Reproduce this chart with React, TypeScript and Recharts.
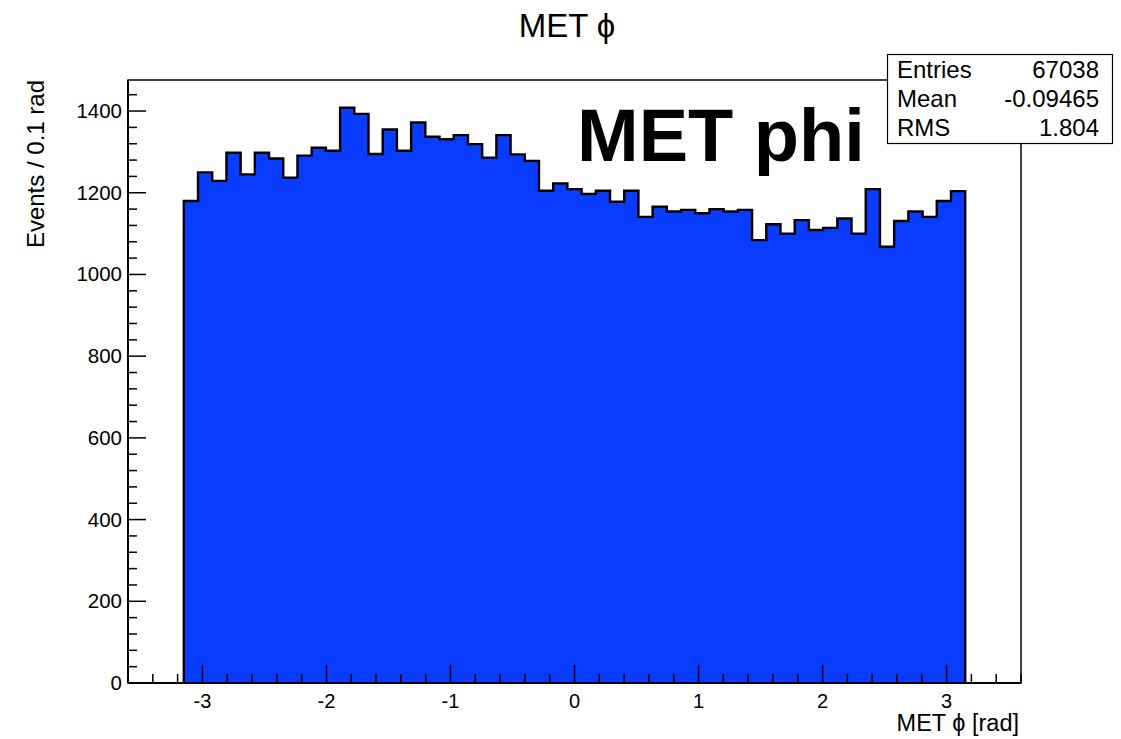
import { ComposedChart, Area, XAxis, YAxis, ReferenceArea } from 'recharts'

const W = 1121
const H = 739
const FONT = '"Liberation Sans", Arial, Helvetica, sans-serif'
const BLUE = '#0a3cff'

// histogram: 55 equal bins between -3.15 and 3.15
const histLow = -3.15
const histHigh = 3.15
const binCounts = [
  1180, 1250, 1229, 1298, 1245, 1298, 1284, 1237, 1291, 1310,
  1303, 1408, 1393, 1295, 1355, 1303, 1372, 1337, 1331, 1341,
  1319, 1286, 1341, 1294, 1278, 1205, 1223, 1209, 1197, 1205,
  1178, 1205, 1141, 1166, 1154, 1158, 1150, 1160, 1154, 1158,
  1084, 1123, 1100, 1133, 1109, 1114, 1137, 1100, 1209, 1068,
  1131, 1154, 1141, 1180, 1204,
]

const xDomain = [-3.6, 3.6]
const yDomain = [0, 1476]
const xMajorTicks = [-3, -2, -1, 0, 1, 2, 3]
const yMajorTicks = [0, 200, 400, 600, 800, 1000, 1200, 1400]

const statLabels = ['Entries', 'Mean', 'RMS']
const statValues = ['67038', '-0.09465', '1.804']

const binWidth = (histHigh - histLow) / binCounts.length
const histData = [
  { x: histLow, y: 0 },
  ...binCounts.map((c, i) => ({ x: histLow + i * binWidth, y: c })),
  { x: histHigh, y: binCounts[binCounts.length - 1] },
  { x: histHigh, y: 0 },
]

// minor ticks every 0.2 on x, every 40 on y
const xTicks: number[] = []
for (let i = 0; i <= 36; i++) xTicks.push(Math.round((xDomain[0] + i * 0.2) * 10) / 10)
const yTicks: number[] = []
for (let i = 0; i <= 36; i++) yTicks.push(i * 40)

const XTick = ({ x, y, payload }: any) => {
  const v = payload.value
  const major = xMajorTicks.includes(v)
  return (
    <g>
      <line x1={x} x2={x} y1={y} y2={y - (major ? 18 : 9)} stroke="#000" strokeWidth={1.5} />
      {major && (
        <text x={x} y={y + 25} textAnchor="middle" fontSize={20} fontFamily={FONT} fill="#000">
          {v}
        </text>
      )}
    </g>
  )
}

const YTick = ({ x, y, payload }: any) => {
  const v = payload.value
  const major = yMajorTicks.includes(v)
  return (
    <g>
      <line x1={x} x2={x + (major ? 18 : 9)} y1={y} y2={y} stroke="#000" strokeWidth={1.5} />
      {major && (
        <text x={x - 6} y={y + 7} textAnchor="end" fontSize={20.5} fontFamily={FONT} fill="#000">
          {v}
        </text>
      )}
    </g>
  )
}

export default function App() {
  return (
    <div style={{ position: 'absolute', left: 0, top: 0, width: W, height: H, background: '#fff' }}>
      <ComposedChart
        width={W}
        height={H}
        data={histData}
        margin={{ top: 80, right: 100, bottom: 0, left: 0 }}
      >
        <XAxis
          type="number"
          dataKey="x"
          domain={xDomain}
          ticks={xTicks}
          interval={0}
          allowDataOverflow
          height={56}
          tickSize={0}
          tickMargin={0}
          tickLine={false}
          axisLine={{ stroke: '#000', strokeWidth: 2 }}
          tick={XTick}
        />
        <YAxis
          type="number"
          domain={yDomain}
          ticks={yTicks}
          interval={0}
          allowDataOverflow
          width={128}
          tickSize={0}
          tickMargin={0}
          tickLine={false}
          axisLine={{ stroke: '#000', strokeWidth: 2 }}
          tick={YTick}
        />
        <Area
          type="stepAfter"
          dataKey="y"
          stroke="#000"
          strokeWidth={2.4}
          fill={BLUE}
          fillOpacity={1}
          dot={false}
          activeDot={false}
          isAnimationActive={false}
        />
        <ReferenceArea
          x1={xDomain[0]}
          x2={xDomain[1]}
          y1={yDomain[0]}
          y2={yDomain[1]}
          fill="none"
          stroke="#000"
          strokeWidth={1.5}
          fillOpacity={0}
        />
      </ComposedChart>

      <svg
        width={W}
        height={H}
        style={{ position: 'absolute', left: 0, top: 0, pointerEvents: 'none' }}
        fontFamily={FONT}
      >
        <text x={567} y={37} textAnchor="middle" fontSize={33} fill="#000">
          MET ϕ
        </text>
        <text x={577} y={161} fontSize={74} fontWeight="bold" fill="#000">
          MET phi
        </text>
        <text
          x={44}
          y={80}
          transform="rotate(-90 44 80)"
          textAnchor="end"
          fontSize={24}
          fill="#000"
        >
          Events / 0.1 rad
        </text>
        <text x={1019} y={731} textAnchor="end" fontSize={23.5} fill="#000">
          MET ϕ [rad]
        </text>

        <rect x={887.5} y={54.5} width={225} height={89} fill="#fff" stroke="#000" strokeWidth={1.2} />
        {statLabels.map((s, i) => (
          <g key={s}>
            <text x={897} y={78 + i * 29} fontSize={24} fill="#000">
              {s}
            </text>
            <text x={1099} y={78 + i * 29} textAnchor="end" fontSize={24} fill="#000">
              {statValues[i]}
            </text>
          </g>
        ))}
      </svg>
    </div>
  )
}
